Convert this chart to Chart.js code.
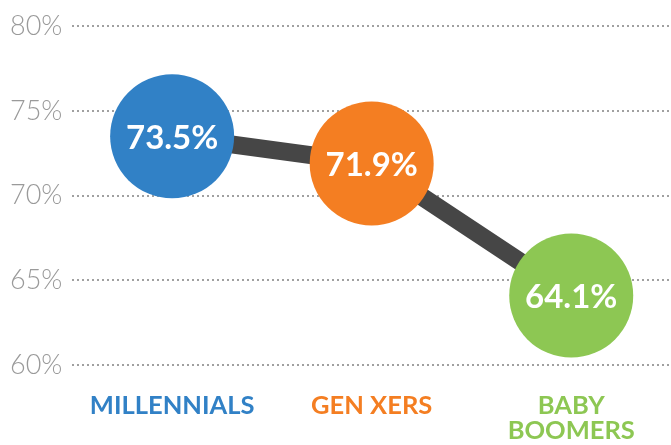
<!DOCTYPE html>
<html>
<head>
<meta charset="utf-8">
<script src="https://cdn.jsdelivr.net/npm/chart.js@4"></script>
<style>
  html, body { margin: 0; padding: 0; background: #fff; }
  #wrap { width: 671px; height: 445px; }
</style>
</head>
<body>
<div id="wrap"><canvas id="genChart" width="671" height="445"></canvas></div>
<script>
// Generations and their share
const generations = [['MILLENNIALS'], ['GEN XERS'], ['BABY', 'BOOMERS']];
const shares = [73.5, 71.9, 64.1];
const genColors = ['#3181c6', '#f47e22', '#8dc753'];
const yTicks = [60, 65, 70, 75, 80];

// Writes the value inside each bubble
const bubbleLabels = {
    id: 'bubbleLabels',
    afterDatasetsDraw(chart) {
        const ctx = chart.ctx;
        const meta = chart.getDatasetMeta(0);
        ctx.save();
        ctx.fillStyle = '#ffffff';
        ctx.font = 'bold 33px Lato';
        ctx.textAlign = 'center';
        ctx.textBaseline = 'middle';
        meta.data.forEach((pt, i) => {
            ctx.fillText(shares[i].toFixed(1) + '%', pt.x, pt.y + 2);
        });
        ctx.restore();
    }
};

const ctx = document.getElementById('genChart').getContext('2d');
new Chart(ctx, {
    type: 'line',
    data: {
        labels: generations,
        datasets: [{
            data: shares,
            borderColor: '#464646',
            borderWidth: 18,
            pointRadius: 62,
            pointHoverRadius: 62,
            pointBorderWidth: 0,
            pointBackgroundColor: genColors,
            fill: false,
            clip: false,
            tension: 0
        }]
    },
    options: {
        responsive: false,
        animation: false,
        layout: { autoPadding: false, padding: { top: 10, right: 0, left: 0, bottom: 0 } },
        plugins: {
            legend: { display: false },
            tooltip: { enabled: false }
        },
        scales: {
            x: {
                offset: true,
                border: { display: false },
                grid: { display: false },
                afterFit: (axis) => { axis.height = 80; },
                ticks: {
                    padding: 20,
                    color: (c) => genColors[c.index],
                    font: { family: 'Lato', size: 25.5, weight: 'bold', lineHeight: 1.0 }
                }
            },
            y: {
                min: 60,
                max: 80,
                afterBuildTicks: (axis) => { axis.ticks = yTicks.map(v => ({ value: v })); },
                border: { display: false, dash: [2, 3] },
                grid: {
                    color: '#a0a0a0',
                    lineWidth: 2,
                    drawTicks: false
                },
                ticks: {
                    padding: 10,
                    color: '#9a9a9a',
                    font: { family: 'Lato', size: 27, weight: 300 },
                    callback: (v) => v + '%'
                }
            }
        }
    },
    plugins: [bubbleLabels]
});
</script>
</body>
</html>
